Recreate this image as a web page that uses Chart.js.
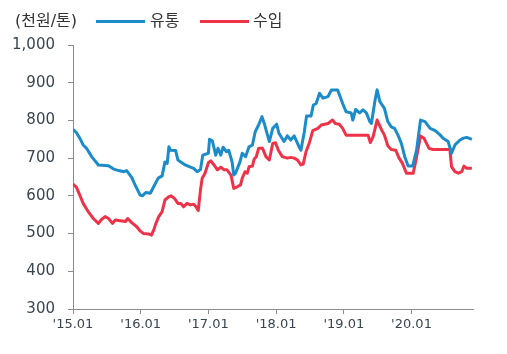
<!DOCTYPE html>
<html><head><meta charset="utf-8">
<script src="https://cdn.jsdelivr.net/npm/chart.js@4/dist/chart.umd.min.js"></script>
<style>
html,body{margin:0;padding:0;background:#fff;}
#wrap{position:relative;width:507px;height:354px;}
#hdr{position:absolute;left:0;top:0;width:507px;height:40px;font-family:"DejaVu Sans","Noto Sans CJK KR",sans-serif;font-size:16px;color:#333;}
#hdr span{position:absolute;top:11px;line-height:20px;}
#hdr i{position:absolute;top:20px;height:3px;display:block;}
canvas{position:absolute;left:0;top:0;}
</style></head>
<body><div id="wrap">
<canvas id="c" width="507" height="354"></canvas>
<div id="hdr">
<span style="left:15px">(천원/톤)</span>
<i style="left:96px;width:49px;background:#1b8bc9"></i><span style="left:150px">유통</span>
<i style="left:200px;width:49px;background:#ee3349"></i><span style="left:253px">수입</span>
</div>
</div>
<script>
// months since 2015.01
const blueMonths = [0,0.6,1.2,1.8,2.4,3.3,4.5,6.3,7.2,8.1,9.0,9.5,10.4,11.0,11.9,12.3,12.9,13.7,14.3,15.1,15.8,16.3,16.7,17.0,17.3,18.2,18.6,19.1,19.9,20.8,21.4,22.0,22.6,23.0,24.0,24.2,24.7,25.3,25.7,26.2,26.6,27.2,27.6,28.2,28.5,28.8,29.6,30.0,30.6,31.2,31.8,32.3,32.9,33.5,33.9,34.8,35.4,36.1,36.5,37.4,38.0,38.6,39.2,40.1,40.4,41.0,41.4,42.2,42.6,43.1,43.7,44.3,45.2,45.8,46.9,47.8,48.4,49.3,49.6,50.1,50.8,51.4,52.0,52.6,52.9,53.5,53.9,54.4,55.2,55.8,56.4,57.0,57.6,58.2,58.8,59.4,60.2,60.9,61.6,62.4,63.3,64.2,65.1,65.6,66.5,67.1,67.7,68.6,69.2,69.8,70.7];
const blueValues = [776,768,753,735,726,704,682,680,671,667,664,667,649,629,602,600,609,607,624,647,653,690,686,730,721,720,695,690,682,676,673,664,670,708,713,750,746,708,726,708,729,717,721,690,655,660,690,713,704,730,735,770,788,810,792,744,779,790,766,744,759,748,759,729,721,770,812,812,841,845,872,859,863,881,881,845,823,820,801,829,820,828,820,797,792,850,881,850,832,797,783,779,761,739,704,679,679,721,801,797,779,773,761,753,744,713,735,748,753,755,750];
const redMonths = [0,0.6,1.2,1.8,2.7,3.6,4.5,5.1,5.7,6.3,7.0,7.5,8.4,9.3,9.7,10.4,11.3,11.9,12.5,13.4,13.9,14.3,14.7,15.2,15.8,16.3,17.0,17.4,18.0,18.6,19.1,19.6,20.2,20.8,21.4,21.8,22.2,22.6,22.9,23.4,24.0,24.4,25.0,25.6,26.2,26.8,27.3,28.0,28.5,29.1,29.7,30.0,30.5,30.9,31.2,31.8,32.1,32.5,32.9,33.6,34.2,34.8,35.4,35.9,36.4,37.1,38.0,38.6,39.2,39.8,40.4,40.8,41.3,41.9,42.5,43.4,44.0,45.2,46.0,46.5,47.2,47.8,48.4,52.3,52.7,53.2,53.9,54.7,55.2,55.8,56.4,57.2,57.8,58.4,59.1,60.3,60.8,61.6,62.2,63.1,63.8,66.8,67.1,67.7,68.3,68.9,69.3,69.8,70.7];
const redValues = [631,623,602,580,558,540,527,538,545,540,527,536,534,532,540,529,518,507,500,499,496,509,527,545,558,589,598,600,593,580,580,571,580,576,578,571,561,616,647,660,688,693,682,669,676,669,669,655,620,624,629,647,664,660,677,679,697,704,726,726,704,695,739,741,721,704,700,702,700,695,682,684,717,741,773,779,788,792,801,792,790,779,761,761,741,757,801,775,761,733,723,721,700,686,660,660,695,759,753,726,723,723,677,664,660,664,679,673,673];
const xTickMonths = [0,12,24,36,48,60];
const xTickLabels = ["'15.01","'16.01","'17.01","'18.01","'19.01","'20.01"];
const seriesNames = ["유통","수입"];

const toPts = (xs, ys) => xs.map((x, i) => ({x: x, y: ys[i]}));
const axisColor = '#8c8c8c';
const labelColor = '#3a4550';
new Chart(document.getElementById('c'), {
  type: 'line',
  data: {datasets: [
    {label: seriesNames[0], data: toPts(blueMonths, blueValues), borderColor: '#1b8bc9', borderWidth: 3, pointRadius: 0, tension: 0, borderJoinStyle: 'round'},
    {label: seriesNames[1], data: toPts(redMonths, redValues), borderColor: '#ee3349', borderWidth: 3, pointRadius: 0, tension: 0, borderJoinStyle: 'round'}
  ]},
  options: {
    responsive: false, animation: false,
    layout: {padding: {top: 45, right: 34, left: 0, bottom: 0}},
    plugins: {legend: {display: false}, tooltip: {enabled: false}},
    scales: {
      x: {
        type: 'linear', min: 0, max: 70.9,
        afterBuildTicks: s => { s.ticks = xTickMonths.map(v => ({value: v})); },
        afterFit: s => { s.height = 45; },
        grid: {drawOnChartArea: false, drawTicks: true, tickLength: 5, color: axisColor},
        border: {color: axisColor, width: 1},
        ticks: {autoSkip: false, maxRotation: 0, padding: 3, color: labelColor,
          font: {family: '"DejaVu Sans", sans-serif', size: 13},
          callback: v => { const i = xTickMonths.indexOf(v); return i >= 0 ? xTickLabels[i] : ''; }}
      },
      y: {
        min: 300, max: 1000,
        afterFit: s => { s.width = 73; },
        grid: {drawOnChartArea: false, drawTicks: true, tickLength: 5, color: axisColor},
        border: {color: axisColor, width: 1},
        ticks: {stepSize: 100, padding: 13, color: labelColor,
          font: {family: '"DejaVu Sans", sans-serif', size: 15},
          callback: v => v.toLocaleString('en-US')}
      }
    }
  }
});
</script>
</body></html>
